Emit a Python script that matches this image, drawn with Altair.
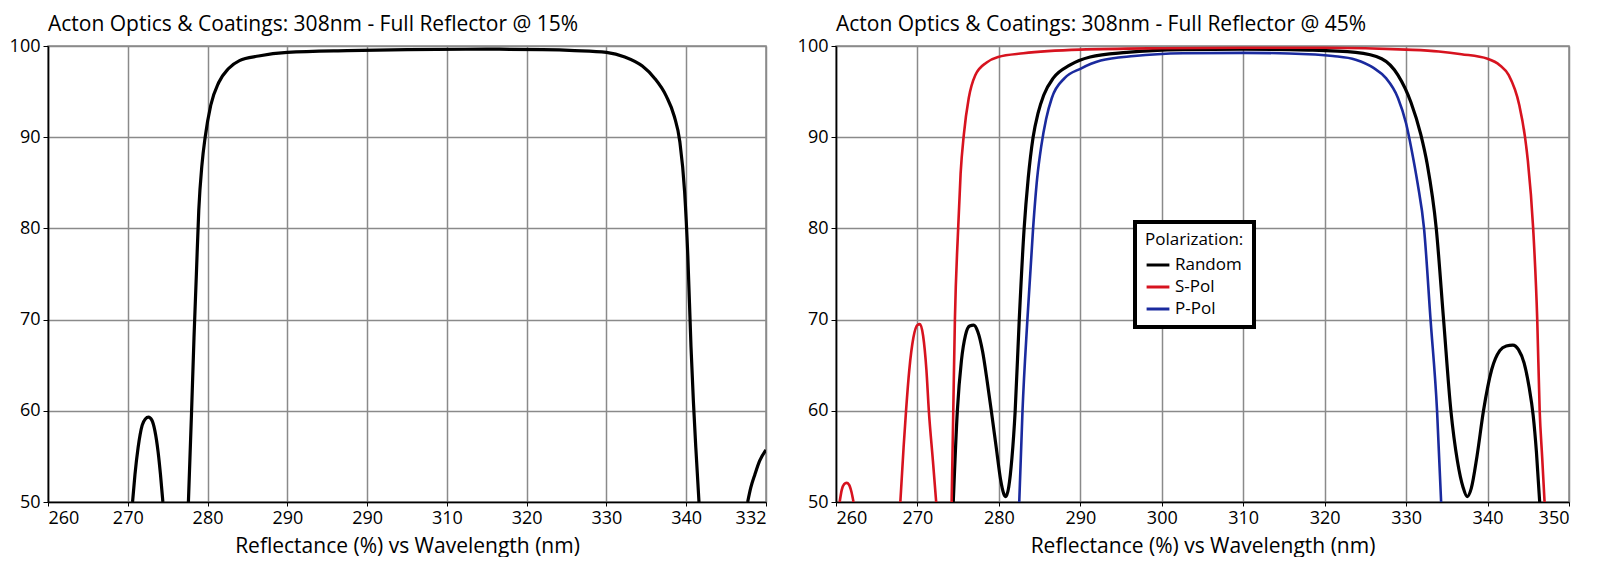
import altair as alt
import pandas as pd

# ---------------- data ----------------
# Left panel: 15 deg, single curve, split in visible segments (below 50 % is off-scale)
left_wl = [270.6, 270.9, 271.3, 271.8, 272.2, 272.6, 273.0, 273.4, 273.8, 274.1, 274.4,
           277.6, 278.0, 278.3, 278.6, 278.9, 279.3, 279.7, 280.4, 281.4, 282.6, 284.0, 286.4,
           290.0, 297.5, 305.0, 315.0, 322.0, 326.0, 330.0, 332.3, 334.5, 336.0, 337.5, 338.5,
           339.2, 339.8, 340.2, 340.6, 340.9, 341.2, 341.6,
           347.7, 348.1, 348.6, 349.2, 350.0]
left_r = [50.0, 53.0, 56.0, 58.4, 59.1, 59.3, 59.0, 57.8, 55.5, 53.0, 50.0,
          50.0, 60.0, 68.0, 75.0, 82.0, 87.0, 90.0, 93.5, 96.0, 97.5, 98.4, 98.9,
          99.3, 99.5, 99.6, 99.65, 99.6, 99.5, 99.3, 98.8, 97.8, 96.5, 94.5, 92.3,
          89.5, 84.0, 77.0, 67.0, 61.0, 56.0, 50.0,
          50.0, 51.6, 53.0, 54.5, 55.7]
left_seg = [1] * 11 + [2] * 31 + [3] * 5
left_tick_values = [260, 270, 280, 290, 300, 310, 320, 330, 340, 350]
left_tick_labels = ["260", "270", "280", "290", "290", "310", "320", "330", "340", "332"]

# Right panel: 45 deg, three polarizations
random_wl = [274.4, 274.9, 275.4, 275.9, 276.4, 276.9, 277.4, 278.0, 278.6, 279.1, 279.7,
             280.2, 280.6, 280.85, 281.2, 281.6, 282.0, 282.5, 283.1, 283.6, 284.2, 284.8,
             285.5, 286.7, 288.7, 291.2, 295.7, 302.6, 310.0, 318.0, 323.8, 327.0, 329.0,
             330.6, 331.8, 332.6, 333.7, 334.6, 335.5, 336.3, 337.0, 337.5, 338.0, 338.7,
             339.5, 340.5, 341.5, 342.3, 343.1, 343.8, 344.5, 345.1, 345.6, 346.0, 346.4]
random_r = [50.0, 60.0, 65.5, 68.3, 69.3, 69.4, 68.7, 66.5, 63.0, 59.8, 55.8,
            52.5, 50.9, 50.6, 51.6, 54.8, 60.0, 70.0, 80.0, 85.5, 90.0, 92.6,
            94.6, 96.5, 97.9, 98.8, 99.3, 99.6, 99.65, 99.55, 99.3, 98.6, 96.8,
            93.8, 90.3, 87.0, 80.0, 70.0, 60.0, 54.5, 51.6, 50.6, 51.5, 55.0,
            60.0, 64.5, 66.6, 67.1, 67.2, 66.7, 65.2, 62.6, 59.5, 55.5, 50.0]
random_seg = [1] * len(random_wl)

spol_wl = [260.45, 260.7, 261.0, 261.3, 261.6, 261.9, 262.15,
           267.9, 268.3, 268.6, 269.0, 269.5, 270.0, 270.3, 270.7, 271.1, 271.4, 271.9, 272.3,
           274.2, 274.4, 274.6, 275.0, 275.3, 275.7, 276.3, 277.1, 278.5, 279.9, 283.0, 290.0,
           300.0, 310.0, 320.0, 330.0, 334.0, 336.8, 340.0, 341.5, 342.6, 343.9, 344.6, 344.95,
           345.6, 346.1, 346.4, 346.7, 347.0]
spol_r = [50.0, 51.3, 51.95, 52.1, 51.9, 51.1, 50.0,
          50.0, 56.0, 60.0, 64.5, 68.0, 69.4, 69.5, 68.2, 64.5, 60.0, 54.5, 50.0,
          50.0, 60.0, 70.0, 80.0, 86.0, 90.3, 94.3, 96.8, 98.2, 98.8, 99.2, 99.6,
          99.75, 99.8, 99.8, 99.6, 99.4, 99.1, 98.6, 97.9, 96.8, 93.5, 90.0, 87.4,
          80.0, 70.0, 60.0, 55.0, 50.0]
spol_seg = [1] * 7 + [2] * 12 + [3] * 29

ppol_wl = [282.5, 282.9, 283.5, 284.2, 284.7, 285.2, 285.8, 286.5, 288.1, 290.0, 292.5,
           296.6, 302.6, 310.0, 318.0, 321.0, 323.8, 326.0, 327.5, 329.0, 330.0, 330.7,
           331.4, 332.2, 333.0, 333.8, 334.3]
ppol_r = [50.0, 60.0, 70.0, 80.0, 85.5, 89.0, 92.0, 94.3, 96.5, 97.5, 98.4,
          98.9, 99.2, 99.25, 99.1, 98.9, 98.5, 97.6, 96.5, 94.3, 91.5, 88.5,
          85.0, 80.0, 70.0, 60.0, 50.0]
ppol_seg = [1] * len(ppol_wl)

right_tick_values = [260, 270, 280, 290, 300, 310, 320, 330, 340, 350]
y_tick_values = [50, 60, 70, 80, 90, 100]
series_names = ["Random", "S-Pol", "P-Pol"]
series_colors = ["#000000", "#d7131f", "#1a2a9e"]

title_left = "Acton Optics & Coatings: 308nm - Full Reflector @ 15%"
title_right = "Acton Optics & Coatings: 308nm - Full Reflector @ 45%"
x_title = "Reflectance (%) vs Wavelength (nm)"

# ---------------- build tables ----------------
df_left = pd.DataFrame({"wl": left_wl, "r": left_r, "seg": left_seg})

frames = []
for name, wl, r, seg in [("Random", random_wl, random_r, random_seg),
                         ("S-Pol", spol_wl, spol_r, spol_seg),
                         ("P-Pol", ppol_wl, ppol_r, ppol_seg)]:
    frames.append(pd.DataFrame({"wl": wl, "r": r, "seg": [f"{name}-{s}" for s in seg],
                                "series": name}))
df_right = pd.concat(frames, ignore_index=True)

FONT = "Open Sans"
W_L, W_R, H = 718, 733, 456

label_expr_left = "[" + ",".join(f"'{t}'" for t in left_tick_labels) + "][round((datum.value-260)/10)]"

y_enc = alt.Y("r:Q", scale=alt.Scale(domain=[50, 100], nice=False),
              axis=alt.Axis(values=y_tick_values, title=None))


def title_params(text):
    return alt.TitleParams(text, anchor="start", frame="group", fontSize=21, font=FONT,
                           fontWeight="normal", color="black", offset=2)


x_axis_common = dict(title=x_title, labelPadding=3, tickSize=4, titlePadding=8)

left = alt.Chart(df_left).mark_line(
    clip=True, color="black", strokeWidth=3.2, interpolate="monotone"
).encode(
    x=alt.X("wl:Q", scale=alt.Scale(domain=[260, 350], nice=False),
            axis=alt.Axis(values=left_tick_values, labelExpr=label_expr_left, **x_axis_common)),
    y=y_enc,
    detail="seg:N",
).properties(width=W_L, height=H, title=title_params(title_left))

color_scale = alt.Scale(domain=series_names, range=series_colors)
x_right = alt.X("wl:Q", scale=alt.Scale(domain=[260, 350], nice=False),
                axis=alt.Axis(values=right_tick_values, **x_axis_common))


def layer_for(name, width):
    return alt.Chart(df_right).transform_filter(
        alt.datum.series == name
    ).mark_line(clip=True, strokeWidth=width, interpolate="monotone").encode(
        x=x_right,
        y=y_enc,
        detail="seg:N",
        color=alt.Color("series:N", scale=color_scale,
                        legend=alt.Legend(title="Polarization:", orient="none",
                                          legendX=299, legendY=176,
                                          symbolType="stroke", symbolStrokeWidth=3,
                                          symbolSize=520, strokeColor="black",
                                          fillColor="white", padding=10,
                                          titleFontSize=17, titleFontWeight="normal",
                                          titleFont=FONT, labelFont=FONT,
                                          labelFontSize=17, titleColor="black",
                                          labelColor="black", rowPadding=1,
                                          titlePadding=3)),
    )


right = alt.layer(
    layer_for("P-Pol", 2.6),
    layer_for("Random", 3.2),
    layer_for("S-Pol", 2.6),
).properties(width=W_R, height=H, title=title_params(title_right))

chart = alt.hconcat(left, right, spacing=70, bounds="flush").resolve_scale(
    color="independent"
).resolve_legend(color="independent").properties(
    padding={"left": 0, "top": 5, "right": 0, "bottom": 0}
).configure_view(
    stroke="#888888", strokeWidth=1.5
).configure_axis(
    labelFont=FONT, titleFont=FONT, labelFontSize=18, titleFontSize=21,
    titleFontWeight="normal", labelColor="black", titleColor="black",
    gridColor="#8a8a8a", gridWidth=1.5, gridOpacity=1,
    domainColor="black", domainWidth=1.6, tickColor="black", tickSize=5,
    labelPadding=3, titlePadding=6,
).configure_legend(
    strokeWidth=4
)

chart.save("out.html", embed_options={"renderer": "svg", "actions": False})
